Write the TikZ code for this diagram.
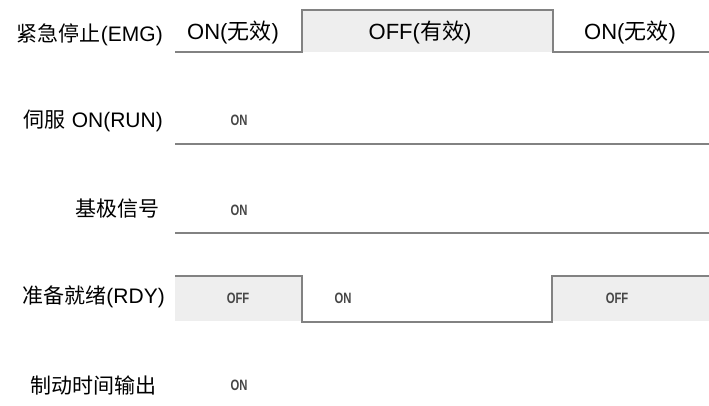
\documentclass[tikz,border=0pt]{standalone}
\usepackage{fontspec}
\setmainfont{Liberation Sans}
\newfontfamily\cjk{Noto Sans CJK SC}
\newfontfamily\smallfont{Liberation Sans}
\definecolor{wave}{RGB}{130,130,130}
\definecolor{hifill}{RGB}{238,238,238}
\definecolor{smalltxt}{RGB}{70,70,70}
\begin{document}
\begin{tikzpicture}[x=1pt,y=-1pt,
  sig/.style={draw=wave,line width=1.8pt,line join=miter},
  lab/.style={anchor=east,inner sep=0pt,font=\fontsize{21}{21}\selectfont},
  state/.style={inner sep=0pt,font=\fontsize{22}{22}\selectfont},
  tiny/.style={inner sep=0pt,text=smalltxt,font=\smallfont\bfseries\fontsize{15}{15}\selectfont}]
\useasboundingbox (0,0) rectangle (709,405);
% row 1 EMG
\fill[hifill] (302,10) rectangle (553,52);
\draw[sig] (175,52) -- (302,52) -- (302,10) -- (553,10) -- (553,52) -- (709,52);
\node[lab] (l1) at (163,35) {\cjk 紧急停止\rmfamily(EMG)};
\node[state] (s11) at (233,33) {ON(\cjk 无效\rmfamily)};
\node[state] (s12) at (420,33) {OFF(\cjk 有效\rmfamily)};
\node[state] (s13) at (630,33) {ON(\cjk 无效\rmfamily)};
% row 2 RUN
\draw[sig] (175,144) -- (709,144);
\node[lab] (l2) at (163,121) {\cjk 伺服\rmfamily{} ON(RUN)};
\node[tiny] (s21) at (239,120) {\scalebox{0.75}[1]{ON}};
% row 3 base
\draw[sig] (175,233) -- (709,233);
\node[lab] (l3) at (160,209) {\cjk 基极信号};
\node[tiny] (s31) at (239,210) {\scalebox{0.75}[1]{ON}};
% row 4 RDY
\fill[hifill] (175,276) rectangle (302,321);
\fill[hifill] (552,276) rectangle (709,321);
\draw[sig] (175,276) -- (302,276) -- (302,322) -- (552,322) -- (552,276) -- (709,276);
\node[lab] (l4) at (165,297) {\cjk 准备就绪\rmfamily(RDY)};
\node[tiny] (s41) at (238,298) {\scalebox{0.75}[1]{OFF}};
\node[tiny] (s42) at (343,298) {\scalebox{0.75}[1]{ON}};
\node[tiny] (s43) at (617,298) {\scalebox{0.75}[1]{OFF}};
% row 5 brake
\node[lab] (l5) at (157,385) {\cjk 制动时间输出};
\node[tiny] (s51) at (239,385) {\scalebox{0.75}[1]{ON}};
\end{tikzpicture}
\end{document}
